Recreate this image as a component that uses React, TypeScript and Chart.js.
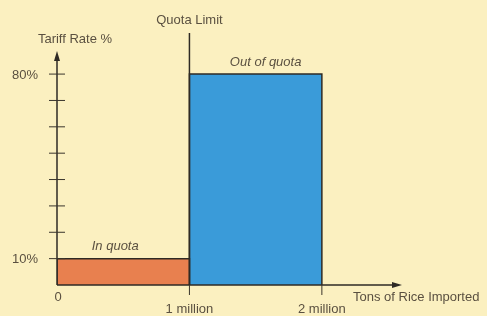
import { useEffect, useRef } from "react";
import { Chart, registerables } from "chart.js";

Chart.register(...registerables);

const categories = ["In quota", "Out of quota"];
const rangeStart = [0, 1];
const rangeEnd = [1, 2];
const tariffRates = [10, 80];
const fillColors = ["#E8804F", "#3A9BD9"];

const xTickValues = [0, 1, 2];
const xTickLabels = ["0", "1 million", "2 million"];
const yTickValues = [10, 20, 30, 40, 50, 60, 70, 80];
const yLabelValues = [10, 80];
const yLabelTexts = ["10%", "80%"];
const quotaLimitValue = 1;

const xTitle = "Tons of Rice Imported";
const yTitle = "Tariff Rate %";
const quotaTitle = "Quota Limit";

const BG = "#FBF0C0";
const LINE = "#2E2A24";
const TEXT = "#5A5040";
const FONT = '"Liberation Sans", Arial, sans-serif';

export default function App() {
  const ref = useRef<HTMLCanvasElement | null>(null);

  useEffect(() => {
    document.body.style.margin = "0";
    const canvas = ref.current;
    if (!canvas) return;

    const overlay = {
      id: "overlay",
      afterDatasetsDraw(chart: any) {
        const ctx = chart.ctx;
        const xs = chart.scales.x;
        const ys = chart.scales.y;
        const area = chart.chartArea;
        const x0 = xs.getPixelForValue(0);
        const y0 = ys.getPixelForValue(0);
        ctx.save();
        ctx.strokeStyle = LINE;
        ctx.fillStyle = LINE;
        ctx.lineWidth = 1.5;

        // y axis
        ctx.beginPath();
        ctx.moveTo(x0, y0);
        ctx.lineTo(x0, area.top + 4);
        ctx.stroke();
        ctx.beginPath();
        ctx.moveTo(x0, area.top - 2);
        ctx.lineTo(x0 - 3, area.top + 8);
        ctx.lineTo(x0 + 3, area.top + 8);
        ctx.closePath();
        ctx.fill();

        // x axis
        ctx.beginPath();
        ctx.moveTo(x0, y0);
        ctx.lineTo(area.right - 4, y0);
        ctx.stroke();
        ctx.beginPath();
        ctx.moveTo(area.right + 2, y0);
        ctx.lineTo(area.right - 8, y0 - 3);
        ctx.lineTo(area.right - 8, y0 + 3);
        ctx.closePath();
        ctx.fill();

        // y ticks crossing the axis
        ctx.lineWidth = 1;
        ctx.strokeStyle = "#3A352C";
        yTickValues.forEach((v) => {
          const y = ys.getPixelForValue(v);
          ctx.beginPath();
          ctx.moveTo(x0 - 8, y);
          ctx.lineTo(x0 + 8, y);
          ctx.stroke();
        });

        // x ticks below axis
        xTickValues.forEach((v) => {
          if (v === 0) return;
          const x = xs.getPixelForValue(v);
          ctx.beginPath();
          ctx.moveTo(x, y0);
          ctx.lineTo(x, y0 + 10);
          ctx.stroke();
        });

        // quota limit line
        const qx = xs.getPixelForValue(quotaLimitValue);
        ctx.lineWidth = 1.5;
        ctx.strokeStyle = LINE;
        ctx.beginPath();
        ctx.moveTo(qx, y0);
        ctx.lineTo(qx, area.top - 20);
        ctx.stroke();

        // texts
        ctx.fillStyle = TEXT;
        ctx.font = `13px ${FONT}`;
        ctx.textBaseline = "middle";

        ctx.textAlign = "center";
        ctx.fillText(quotaTitle, qx, area.top - 33);
        ctx.fillText(yTitle, x0 + 18, area.top - 14);

        ctx.textAlign = "right";
        yLabelValues.forEach((v, i) => {
          ctx.fillText(yLabelTexts[i], x0 - 19, ys.getPixelForValue(v) + 1);
        });

        xTickValues.forEach((v, i) => {
          const x = xs.getPixelForValue(v);
          if (v === 0) {
            ctx.textAlign = "center";
            ctx.fillText(xTickLabels[i], x + 1, y0 + 12);
          } else {
            ctx.textAlign = "center";
            ctx.fillText(xTickLabels[i], x, y0 + 24);
          }
        });

        ctx.textAlign = "left";
        ctx.fillText(xTitle, area.right - 47, y0 + 12);

        ctx.font = `italic 13px ${FONT}`;
        ctx.textAlign = "center";
        categories.forEach((c, i) => {
          const cx = (xs.getPixelForValue(rangeStart[i]) + xs.getPixelForValue(rangeEnd[i])) / 2;
          ctx.fillText(c, cx - (i === 0 ? 8 : -10), ys.getPixelForValue(tariffRates[i]) - 12);
        });
        ctx.restore();
      },
    };

    const chart = new Chart(canvas, {
      type: "scatter",
      data: {
        datasets: categories.map((c, i) => ({
          label: c,
          data: [
            { x: rangeStart[i], y: 0 },
            { x: rangeStart[i], y: tariffRates[i] },
            { x: rangeEnd[i], y: tariffRates[i] },
            { x: rangeEnd[i], y: 0 },
          ],
          showLine: true,
          fill: "origin",
          backgroundColor: fillColors[i],
          borderColor: LINE,
          borderWidth: 1.5,
          pointRadius: 0,
          tension: 0,
        })),
      },
      options: {
        animation: false,
        responsive: false,
        layout: { padding: { left: 57, right: 87, top: 53, bottom: 31 } },
        plugins: { legend: { display: false }, tooltip: { enabled: false } },
        scales: {
          x: { type: "linear", min: 0, max: 2.59, display: false },
          y: { type: "linear", min: 0, max: 88, display: false },
        },
      },
      plugins: [overlay],
    });
    return () => chart.destroy();
  }, []);

  return (
    <div style={{ width: 487, height: 316, background: BG }}>
      <canvas ref={ref} width={487} height={316} style={{ display: "block" }} />
    </div>
  );
}
